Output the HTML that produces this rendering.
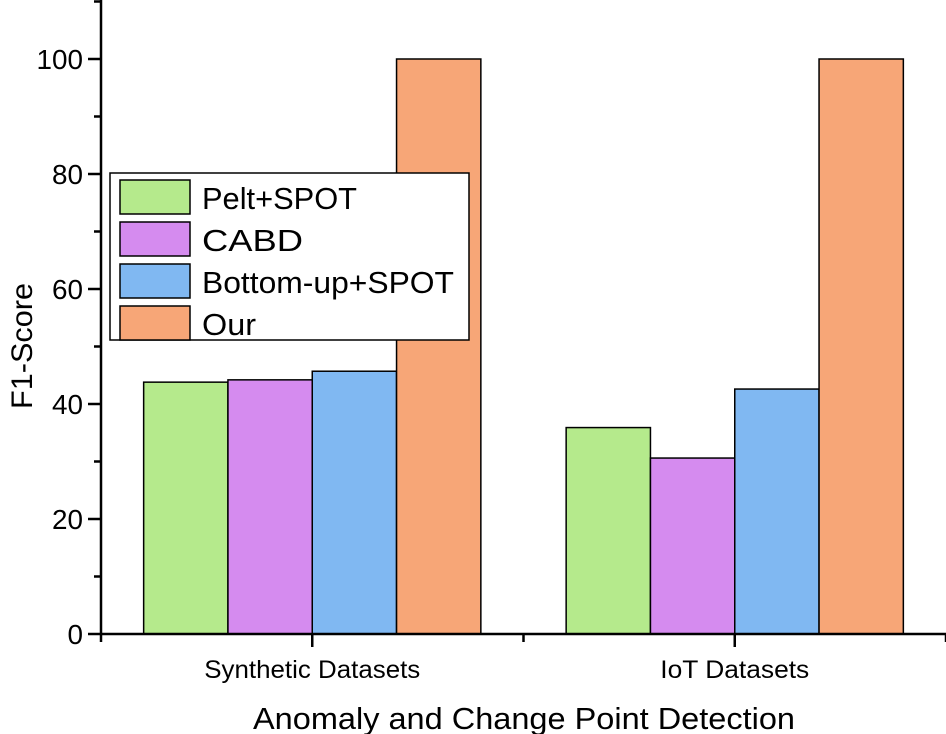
<!DOCTYPE html>
<html><head><meta charset="utf-8"><style>
body{margin:0;background:#fff}
svg{display:block;font-family:"Liberation Sans",Arial,sans-serif}
</style></head><body>
<svg id="chart" width="946" height="734">
<g id="bars"></g>
<g id="axes"></g>
<text x="253" y="729" font-size="31" textLength="542" lengthAdjust="spacingAndGlyphs">Anomaly and Change Point Detection</text>
<text transform="translate(32,346) rotate(-90)" text-anchor="middle" font-size="30" textLength="126" lengthAdjust="spacingAndGlyphs">F1-Score</text>
<g id="legend"></g>
</svg>
<script>
const categories=["Synthetic Datasets","IoT Datasets"];
const seriesNames=["Pelt+SPOT","CABD","Bottom-up+SPOT","Our"];
const peltValues=[43.8,35.9];
const cabdValues=[44.2,30.6];
const bottomValues=[45.7,42.6];
const ourValues=[100,100];
const yTicks=[0,20,40,60,80,100];
const colors=["#b5ea8c","#d58bef","#80b8f2","#f7a677"];
const series=[peltValues,cabdValues,bottomValues,ourValues];
const catLen=[216,149];
const legLen=[155,101,252,54];
const NS="http://www.w3.org/2000/svg";
const x0=101,x1=946,y0=634,yTop=59;
const y=v=>y0-(v/100)*(y0-yTop);
const groupW=(x1-x0)/categories.length;
const cx=i=>x0+groupW*(i+0.5);
const barW=84.3;
function mk(t,a,p){const e=document.createElementNS(NS,t);for(const k in a)e.setAttribute(k,a[k]);p.appendChild(e);return e;}
const bars=document.getElementById('bars');
categories.forEach((c,i)=>{series.forEach((s,j)=>{
 const bx=cx(i)-2*barW+j*barW;
 const r=mk('rect',{x:bx,y:y(s[i]),width:barW,height:y0-y(s[i]),fill:colors[j],stroke:'#000','stroke-width':1.5},bars);
 
 
});});
const ax=document.getElementById('axes');
mk('line',{x1:x0,y1:0,x2:x0,y2:y0+1,stroke:'#000','stroke-width':2.5},ax);
mk('line',{x1:x0-1,y1:y0,x2:x1,y2:y0,stroke:'#000','stroke-width':2.5},ax);
yTicks.forEach(v=>{
 mk('line',{x1:x0-13,y1:y(v),x2:x0,y2:y(v),stroke:'#000','stroke-width':2.5},ax);
 mk('line',{x1:x0-7,y1:y(v+10),x2:x0,y2:y(v+10),stroke:'#000','stroke-width':2.5},ax);
 const t=mk('text',{x:x0-18,y:y(v)+10,'text-anchor':'end','font-size':28,textLength:String(v).length*15.5,lengthAdjust:'spacingAndGlyphs'},ax);t.textContent=v;
 
 
});
for(let i=0;i<=categories.length;i++){
 const xx=x0+groupW*i;mk('line',{x1:xx,y1:y0,x2:xx,y2:y0+8,stroke:'#000','stroke-width':2.5},ax);
}
categories.forEach((c,i)=>{
 mk('line',{x1:cx(i),y1:y0,x2:cx(i),y2:y0+13,stroke:'#000','stroke-width':2.5},ax);
 const t=mk('text',{x:cx(i),y:678,'text-anchor':'middle','font-size':25,textLength:catLen[i],lengthAdjust:'spacingAndGlyphs'},ax);t.textContent=c;
 
 
});
const lg=document.getElementById('legend');
mk('rect',{x:110,y:173,width:359,height:167,fill:'#fff',stroke:'#000','stroke-width':1.5},lg);
seriesNames.forEach((n,j)=>{
 const yy=180+j*42;
 const s=mk('rect',{x:120,y:yy,width:70,height:34,fill:colors[j],stroke:'#000','stroke-width':1.5},lg);
 
 
 const t=mk('text',{x:202,y:yy+29,'font-size':31,textLength:legLen[j],lengthAdjust:'spacingAndGlyphs'},lg);t.textContent=n;
 
 
});
</script>
</body></html>
